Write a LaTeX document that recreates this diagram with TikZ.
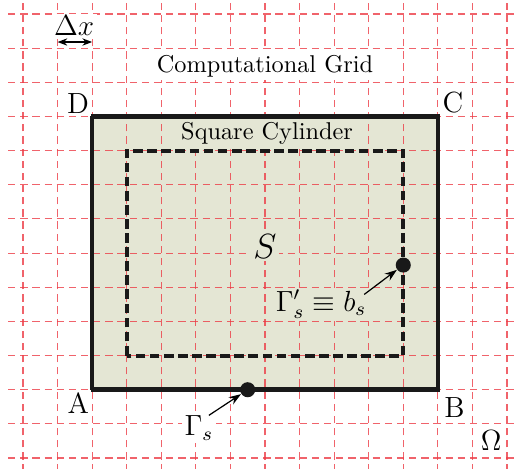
\documentclass[tikz,border=0pt]{standalone}
\usetikzlibrary{arrows.meta}
\definecolor{cylfill}{RGB}{228,230,212}
\definecolor{gridred}{RGB}{236,60,70}
\tikzset{
  gridline/.style   = {draw=gridred, draw opacity=0.8, densely dashed, line width=0.45pt},
  squarebody/.style = {draw=black!90, line width=1.9pt},
  wallline/.style   = {draw=black!90, line width=1.7pt, dash pattern=on 4pt off 1.8pt},
  dot/.style        = {circle, fill=black!90, inner sep=0pt, minimum size=6.2pt},
  cornerlbl/.style  = {fill=white, inner sep=1pt, font=\large},
  innerlbl/.style   = {fill=cylfill, inner sep=1pt},
  pointer/.style    = {-{Stealth[length=5pt,width=3.5pt]}, line width=0.5pt},
  dimline/.style    = {{Stealth[length=4pt,width=3pt]}-{Stealth[length=4pt,width=3pt]}, line width=0.6pt},
}

\begin{document}
\begin{tikzpicture}[x=0.5cm, y=0.494cm]
      \useasboundingbox (-0.665,-0.293) rectangle (14.232,13.41);

      % cylinder body and computational grid
      \fill[cylfill] (2,2) rectangle (12,10);
      \foreach \i in {0,...,14}
        \draw[gridline] (\i,-0.4) -- (\i,13.5);
      \foreach \j in {0,...,13}
        \draw[gridline] (-0.43,\j) -- (14.3,\j);
      \draw[wallline] (3,3) rectangle (11,9);
      \draw[squarebody] (2,2) rectangle (12,10);

      % boundary points
      \node[dot] (gsdot) at (6.5,2)   {};
      \node[dot] (bsdot) at (11,5.65) {};

      % labels
      \node[cornerlbl] (A) at (1.6,1.61)   {A};
      \node[cornerlbl] (B) at (12.48,1.49) {B};
      \node[cornerlbl] (C) at (12.44,10.41) {C};
      \node[cornerlbl] (D) at (1.59,10.37) {D};
      \node[cornerlbl] (omega) at (13.54,0.5) {$\Omega$};
      \node[fill=white, inner sep=1.5pt] (cgrid) at (7.0,11.48) {Computational Grid};
      \node[innerlbl] (sqcyl) at (7.06,9.5) {Square Cylinder};
      \node[innerlbl, font=\Large] (S) at (7.0,6.19) {$S$};
      \node[cornerlbl] (gs) at (5.09,0.88) {$\Gamma_s$};
      \node[innerlbl, font=\large] (bs) at (8.62,4.5) {$\Gamma'_s \equiv b_s$};

      % pointers
      \draw[pointer] ([xshift=-3pt,yshift=-1pt]gs.north east) -- (gsdot);
      \draw[pointer] ([xshift=-2pt,yshift=-3pt]bs.north east) -- (bsdot);

      % grid spacing
      \coordinate (dxl) at (1,12.18);
      \coordinate (dxr) at (2,12.18);
      \draw[dimline] (dxl) -- (dxr);
      \node[cornerlbl] (dx) at (1.48,12.65) {$\Delta x$};
\end{tikzpicture}
\end{document}
